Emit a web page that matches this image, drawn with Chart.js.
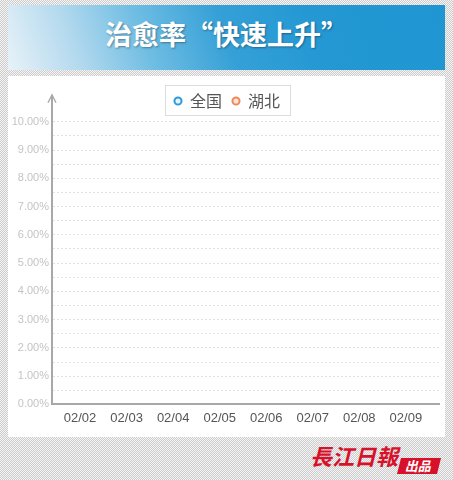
<!DOCTYPE html>
<html lang="zh-CN">
<head>
<meta charset="utf-8">
<script src="https://cdn.jsdelivr.net/npm/chart.js@4"></script>
<style>
  html, body { margin: 0; padding: 0; }
  body {
    width: 453px; height: 480px; position: relative; overflow: hidden;
    background-color: #e4e4e4;
    background-image: conic-gradient(#cdcdcd 25%, #f4f4f4 0 50%, #cdcdcd 0 75%, #f4f4f4 0);
    background-size: 2px 2px;
  }
  .banner {
    position: absolute; left: 8px; top: 5px; width: 437px; height: 65px; overflow: hidden;
    background: linear-gradient(70deg, #e8f2f8 0%, #b3d9ee 16%, #6fbde3 32%, #35a0d7 50%, #2398d3 70%, #1f96d2 100%);
    color: #fff; text-align: center;
    font: bold 27px "Noto Sans CJK SC", sans-serif;
    line-height: 58px;
    text-shadow: 1px 1px 2px rgba(0,0,0,0.35);
  }
  .banner .q { display: inline-block; width: 1em; }
  .banner .ql { text-align: right; }
  .banner .qr { text-align: left; }
  .panel {
    position: absolute; left: 8px; top: 76px; width: 437px; height: 361px; background: #fff;
  }
  .logo {
    position: absolute; left: 310px; top: 439px;
    font: bold italic 22px "Noto Sans CJK TC", serif; color: #d8112b;
  }
  .made {
    position: absolute; left: 399px; top: 458px; width: 40px; height: 16px;
    background: #d8112b; color: #fff; transform: skewX(-14deg);
    font: bold 13px "Noto Sans CJK SC", sans-serif; line-height: 16px; text-align: center;
  }
</style>
</head>
<body>
<div class="banner">治愈率<span class="q ql">“</span>快速上升<span class="q qr">”</span></div>
<div class="panel"><canvas id="rateChart"></canvas></div>
<div class="logo">長江日報</div>
<div class="made">出品</div>

<script>
// Data

const dates = ["02/02", "02/03", "02/04", "02/05", "02/06", "02/07", "02/08", "02/09"];

// no points or lines are drawn yet in the picture
const quanguo = [null, null, null, null, null, null, null, null];
const hubei = [null, null, null, null, null, null, null, null];

const yTicks = [0, 0.5, 1, 1.5, 2, 2.5, 3, 3.5, 4, 4.5, 5, 5.5, 6, 6.5, 7, 7.5, 8, 8.5, 9, 9.5, 10];

const labelFont = "'Liberation Sans', Arial, sans-serif";

// Axis arrow + legend frame

const frame = {
  id: "frame",
  afterDraw(chart) {
    const ctx = chart.ctx;
    const area = chart.chartArea;
    const x = area.left;
    const top = chart.scales.y.getPixelForValue(10);

    ctx.save();
    ctx.strokeStyle = "#a8a8a8";
    ctx.lineWidth = 2;
    ctx.beginPath();
    ctx.moveTo(x, area.top);
    ctx.lineTo(x, top - 26);
    ctx.stroke();

    ctx.lineWidth = 1.3;
    ctx.beginPath();
    ctx.moveTo(x - 4, top - 19);
    ctx.lineTo(x, top - 27);
    ctx.lineTo(x + 4, top - 19);
    ctx.stroke();

    const boxes = chart.legend.legendHitBoxes;
    if (boxes && boxes.length) {
      let l = Infinity, r = -Infinity, t = Infinity, b = -Infinity;
      boxes.forEach(h => {
        l = Math.min(l, h.left);
        r = Math.max(r, h.left + h.width);
        t = Math.min(t, h.top);
        b = Math.max(b, h.top + h.height);
      });
      ctx.strokeStyle = "#dcdcdc";
      ctx.lineWidth = 1;
      ctx.strokeRect(Math.round(l - 9) + 0.5, Math.round(t - 8) + 0.5, Math.round(r - l + 19), Math.round(b - t + 14));
    }
    ctx.restore();
  }
};

// Chart

new Chart(document.getElementById("rateChart"), {

  type: "line",

  data: {
    datasets: [
      {
        label: "全国",
        data: dates.map((d, i) => ({ x: i, y: quanguo[i] })),
        borderColor: "#2f9bd8",
        backgroundColor: "#e4f2fb",
        borderWidth: 2,
        pointStyle: "circle"
      },
      {
        label: "湖北",
        data: dates.map((d, i) => ({ x: i, y: hubei[i] })),
        borderColor: "#ef8a58",
        backgroundColor: "#fde6d9",
        borderWidth: 2,
        pointStyle: "circle"
      }
    ]
  },

  options: {
    responsive: true,
    maintainAspectRatio: false,
    animation: false,
    layout: { padding: { top: 7, left: 4, right: 3, bottom: 5 } },

    plugins: {
      tooltip: { enabled: false },
      legend: {
        labels: {
          usePointStyle: true,
          boxWidth: 8,
          boxHeight: 5,
          padding: 10,
          color: "#555",
          font: { family: "'Noto Sans CJK SC', sans-serif", size: 16 }
        }
      }
    },

    scales: {
      x: {
        type: "linear",
        min: -0.603,
        max: 7.712,
        afterBuildTicks: s => { s.ticks = dates.map((d, i) => ({ value: i })); },
        grid: { display: false, drawTicks: false },
        border: { display: true, color: "#a8a8a8", width: 2 },
        ticks: {
          padding: 6,
          autoSkip: false,
          maxRotation: 0,
          color: "#555",
          font: { family: labelFont, size: 13 },
          callback: v => dates[v]
        }
      },
      y: {
        min: 0,
        max: 10.1,
        afterBuildTicks: s => { s.ticks = yTicks.map(v => ({ value: v })); },
        afterFit: s => { s.width = 40; },
        grid: { color: "#e2e2e2", lineWidth: 1, drawTicks: false },
        border: { display: true, color: "#a8a8a8", width: 2, dash: [2, 2] },
        ticks: {
          padding: 3,
          autoSkip: false,
          color: "#c4c4c4",
          font: { family: labelFont, size: 11 },
          callback: v => (v % 1 === 0 ? v.toFixed(2) + "%" : "")
        }
      }
    }
  },

  plugins: [frame]

});
</script>
</body>
</html>
